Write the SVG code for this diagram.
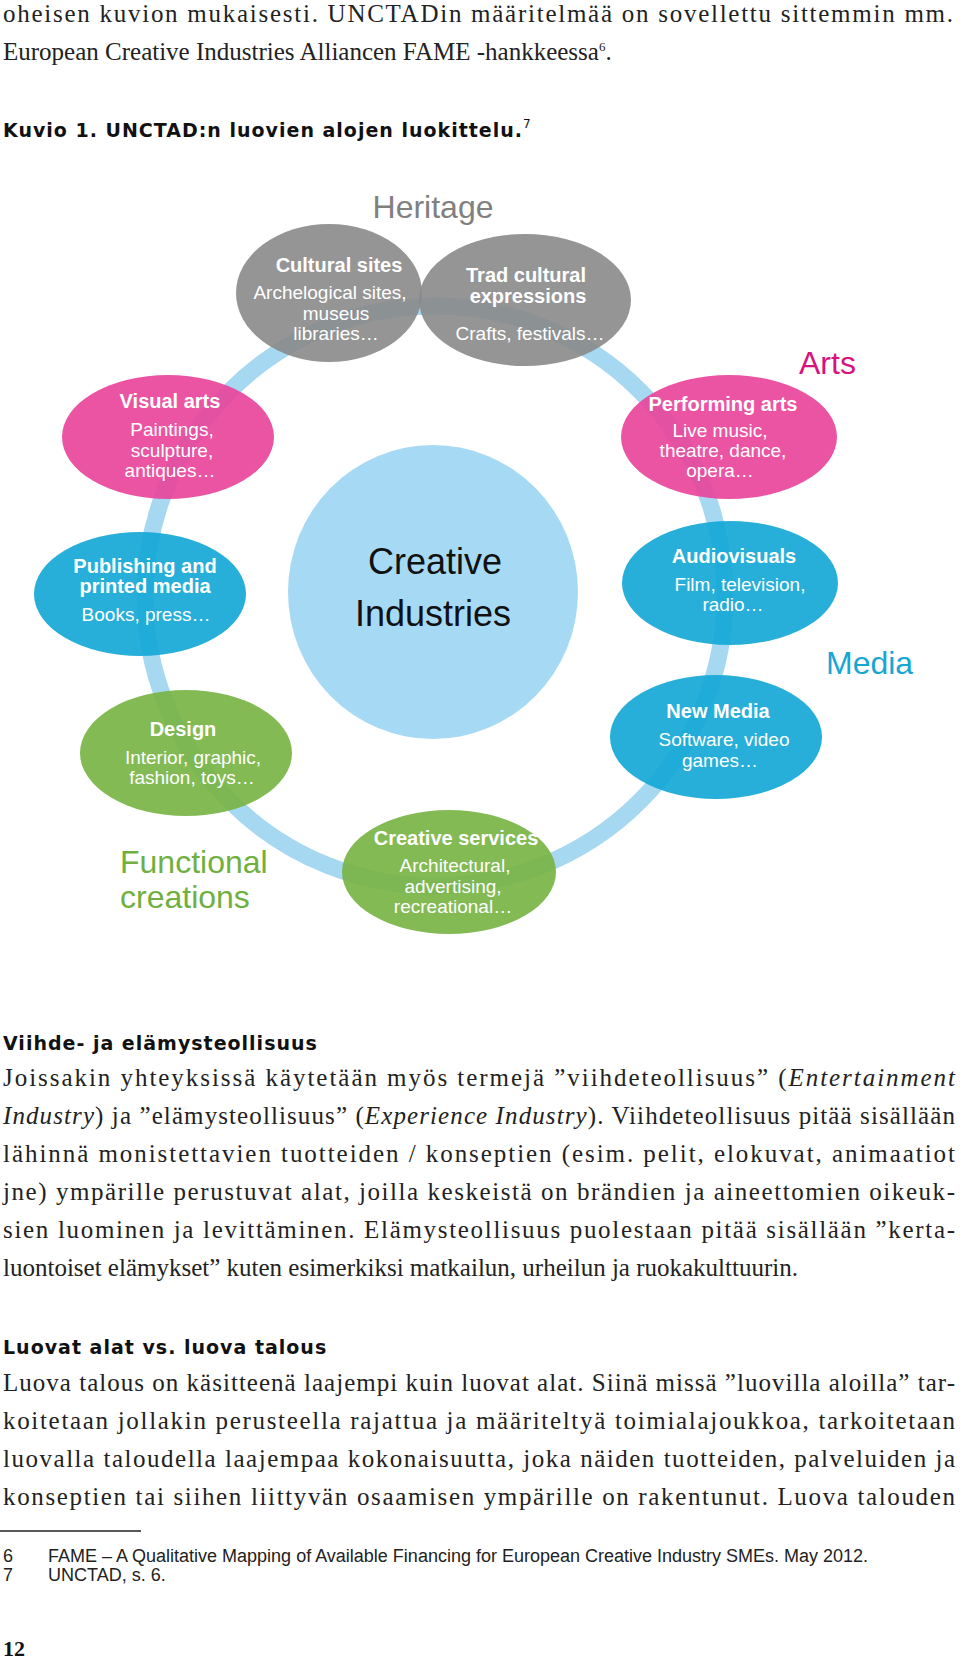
<svg xmlns="http://www.w3.org/2000/svg" width="960" height="1664" viewBox="0 0 960 1664">
<style>
.body{font-family:"Liberation Serif",serif;font-size:25px;fill:#222}
.it{font-style:italic}
.hd{font-family:"DejaVu Sans",sans-serif;font-weight:bold;font-size:19px;fill:#111;letter-spacing:1px}
.t{font-family:"Liberation Sans",sans-serif;fill:#fff;text-anchor:middle}
.b{font-weight:bold;font-size:20px}
.s{font-size:19px}
.grp{font-family:"Liberation Sans",sans-serif;font-size:32px}
.fn{font-family:"Liberation Sans",sans-serif;font-size:18px;fill:#222}
.gray{fill:#8a8a8a;opacity:.9}
.pink{fill:#e8459b;opacity:.92}
.blue{fill:#15a8d6;opacity:.92}
.green{fill:#78b445;opacity:.92}
</style>
<rect width="960" height="1664" fill="#fff"/>
<text class="body" x="3" y="22" textLength="950" lengthAdjust="spacing">oheisen kuvion mukaisesti. UNCTADin määritelmää on sovellettu sittemmin mm.</text>
<text class="body" x="3" y="60">European Creative Industries Alliancen FAME -hankkeessa<tspan font-size="13" dy="-9">6</tspan><tspan dy="9">.</tspan></text>
<text class="hd" x="3" y="137">Kuvio 1. UNCTAD:n luovien alojen luokittelu.<tspan font-size="12" dy="-9" font-weight="normal">7</tspan></text>
<text class="grp" x="433" y="218" text-anchor="middle" fill="#808080">Heritage</text>
<g id="connectors"><circle cx="435" cy="596" r="290" fill="none" stroke="#a6d8f2" stroke-width="17"/></g>
<g id="center"><ellipse cx="433" cy="592" rx="145" ry="147" fill="#a6daf4"/>
<text x="435" y="574" text-anchor="middle" font-family="Liberation Sans,sans-serif" font-size="36" fill="#111">Creative</text>
<text x="433" y="626" text-anchor="middle" font-family="Liberation Sans,sans-serif" font-size="36" fill="#111">Industries</text></g>
<g id="cultural"><ellipse class="gray" cx="329" cy="293" rx="93" ry="69"/>
<text class="t b" x="339" y="272">Cultural sites</text><text class="t s" x="330" y="299">Archelogical sites,</text><text class="t s" x="336" y="320">museus</text><text class="t s" x="336" y="340">libraries…</text></g>
<g id="trad"><ellipse class="gray" cx="525" cy="300" rx="106" ry="66"/>
<text class="t b" x="526" y="282">Trad cultural</text><text class="t b" x="528" y="303">expressions</text><text class="t s" x="530" y="340">Crafts, festivals…</text></g>
<g id="visual"><ellipse class="pink" cx="168" cy="437" rx="106" ry="62"/>
<text class="t b" x="170" y="408">Visual arts</text><text class="t s" x="172" y="436">Paintings,</text><text class="t s" x="172" y="457">sculpture,</text><text class="t s" x="170" y="477">antiques…</text></g>
<g id="performing"><ellipse class="pink" cx="729" cy="437" rx="108" ry="62"/>
<text class="t b" x="723" y="411">Performing arts</text><text class="t s" x="720" y="437">Live music,</text><text class="t s" x="723" y="457">theatre, dance,</text><text class="t s" x="720" y="477">opera…</text></g>
<g id="publishing"><ellipse class="blue" cx="140" cy="594" rx="106" ry="62"/>
<text class="t b" x="145" y="573">Publishing and</text><text class="t b" x="145" y="593">printed media</text><text class="t s" x="146" y="621">Books, press…</text></g>
<g id="audiovisuals"><ellipse class="blue" cx="730" cy="583" rx="108" ry="62"/>
<text class="t b" x="734" y="563">Audiovisuals</text><text class="t s" x="740" y="591">Film, television,</text><text class="t s" x="733" y="611">radio…</text></g>
<g id="newmedia"><ellipse class="blue" cx="716" cy="737" rx="106" ry="62"/>
<text class="t b" x="718" y="718">New Media</text><text class="t s" x="724" y="746">Software, video</text><text class="t s" x="720" y="767">games…</text></g>
<g id="design"><ellipse class="green" cx="186" cy="753" rx="106" ry="63"/>
<text class="t b" x="183" y="736">Design</text><text class="t s" x="193" y="764">Interior, graphic,</text><text class="t s" x="192" y="784">fashion, toys…</text></g>
<g id="services"><ellipse class="green" cx="449" cy="872" rx="107" ry="62"/>
<text class="t b" x="456" y="845">Creative services</text><text class="t s" x="455" y="872">Architectural,</text><text class="t s" x="453" y="893">advertising,</text><text class="t s" x="453" y="913">recreational…</text></g>
<text class="grp" x="799" y="374" fill="#d6137f">Arts</text>
<text class="grp" x="826" y="674" fill="#17a6d3">Media</text>
<text class="grp" x="120" y="873" fill="#6fb03e">Functional</text>
<text class="grp" x="120" y="908" fill="#6fb03e">creations</text>
<text class="hd" x="3" y="1050">Viihde- ja elämysteollisuus</text>
<text class="body" x="3" y="1086" textLength="952" lengthAdjust="spacing">Joissakin yhteyksissä käytetään myös termejä ”viihdeteollisuus” (<tspan class="it">Entertainment</tspan></text>
<text class="body" x="3" y="1124" textLength="952" lengthAdjust="spacing"><tspan class="it">Industry</tspan>) ja ”elämysteollisuus” (<tspan class="it">Experience Industry</tspan>). Viihdeteollisuus pitää sisällään</text>
<text class="body" x="3" y="1162" textLength="952" lengthAdjust="spacing">lähinnä monistettavien tuotteiden / konseptien (esim. pelit, elokuvat, animaatiot</text>
<text class="body" x="3" y="1200" textLength="952" lengthAdjust="spacing">jne) ympärille perustuvat alat, joilla keskeistä on brändien ja aineettomien oikeuk-</text>
<text class="body" x="3" y="1238" textLength="952" lengthAdjust="spacing">sien luominen ja levittäminen. Elämysteollisuus puolestaan pitää sisällään ”kerta-</text>
<text class="body" x="3" y="1276">luontoiset elämykset” kuten esimerkiksi matkailun, urheilun ja ruokakulttuurin.</text>
<text class="hd" x="3" y="1354">Luovat alat vs. luova talous</text>
<text class="body" x="3" y="1391" textLength="952" lengthAdjust="spacing">Luova talous on käsitteenä laajempi kuin luovat alat. Siinä missä ”luovilla aloilla” tar-</text>
<text class="body" x="3" y="1429" textLength="952" lengthAdjust="spacing">koitetaan jollakin perusteella rajattua ja määriteltyä toimialajoukkoa, tarkoitetaan</text>
<text class="body" x="3" y="1467" textLength="952" lengthAdjust="spacing">luovalla taloudella laajempaa kokonaisuutta, joka näiden tuotteiden, palveluiden ja</text>
<text class="body" x="3" y="1505" textLength="952" lengthAdjust="spacing">konseptien tai siihen liittyvän osaamisen ympärille on rakentunut. Luova talouden</text>
<line x1="0" y1="1531" x2="141" y2="1531" stroke="#222" stroke-width="1.5"/>
<text class="fn" x="3" y="1562">6</text><text class="fn" x="48" y="1562">FAME – A Qualitative Mapping of Available Financing for European Creative Industry SMEs. May 2012.</text>
<text class="fn" x="3" y="1581">7</text><text class="fn" x="48" y="1581">UNCTAD, s. 6.</text>
<text x="3" y="1656" font-family="Liberation Serif,serif" font-weight="bold" font-size="22" fill="#111">12</text>
</svg>
